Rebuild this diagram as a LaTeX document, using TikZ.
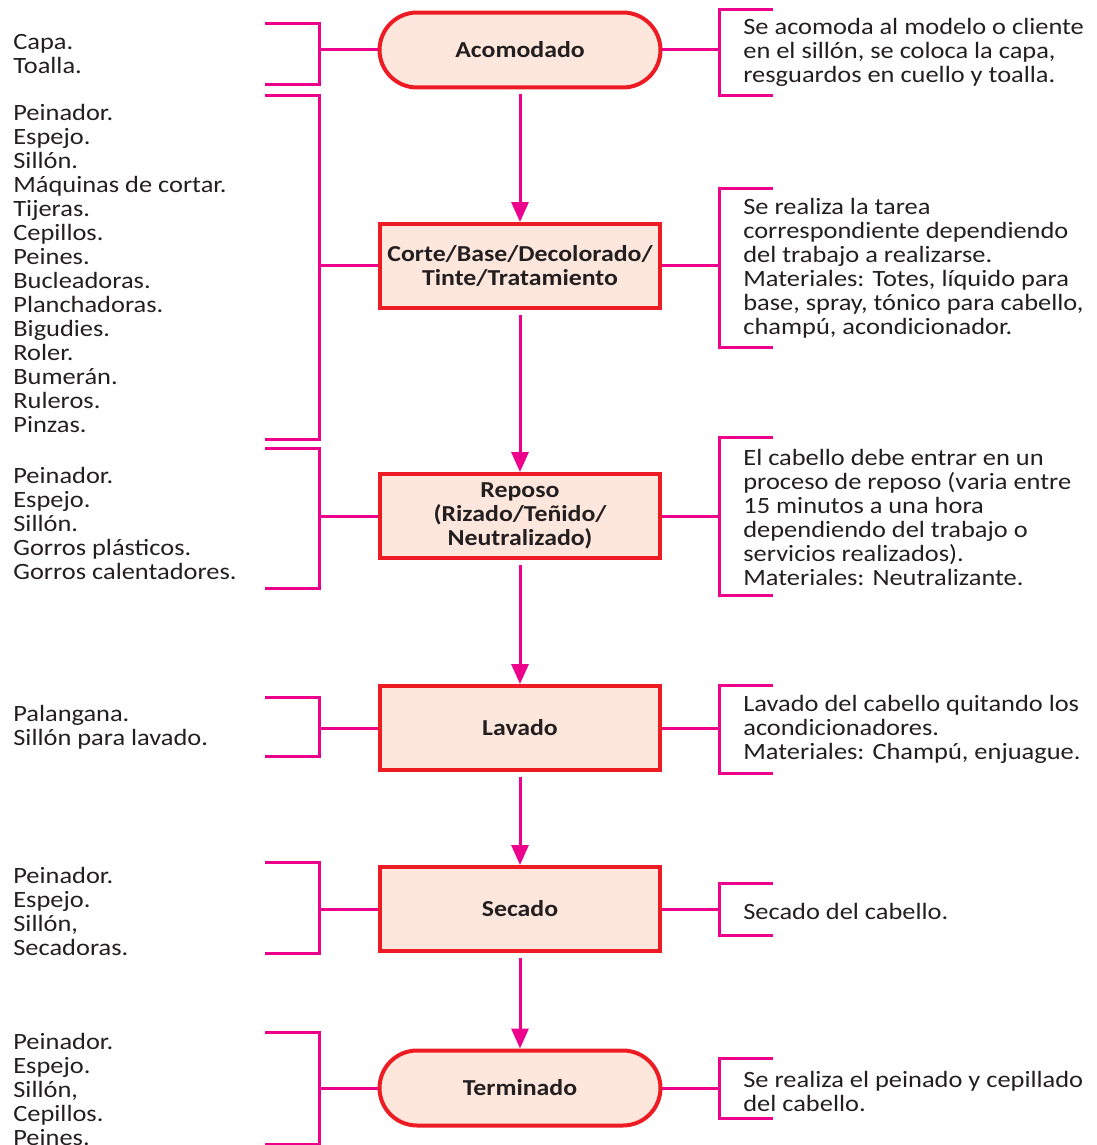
\documentclass[tikz,border=0pt]{standalone}
\usepackage{fontspec}
\setmainfont{Carlito}[FakeStretch=1.13]
\usetikzlibrary{positioning,arrows.meta}
\definecolor{myred}{HTML}{ED1C24}
\definecolor{mypeach}{HTML}{FDE6DC}
\definecolor{mymagenta}{HTML}{EC008C}
\definecolor{mytext}{HTML}{231F20}

\begin{document}
\begin{tikzpicture}[x=0.02cm, y=-0.02cm,
  stepbox/.style={draw=myred, line width=0.08cm, fill=mypeach, align=center, inner sep=0pt,
    minimum width=5.62cm, minimum height=1.68cm, text=mytext, font=\fontsize{13}{13.66}\selectfont\bfseries},
  stepround/.style={stepbox, rounded corners=0.75cm, minimum height=1.5cm},
  flowarrow/.style={draw=mymagenta, line width=0.06cm, -{Triangle[width=0.34cm,length=0.4cm]}, shorten <=0.1cm},
  bracketline/.style={draw=mymagenta, line width=0.06cm},
  notetext/.style={anchor=west, align=left, inner sep=0pt, text=mytext, font=\fontsize{13.3}{13.66}\selectfont}]

\useasboundingbox (0,0) rectangle (1096,1145);

\coordinate (lbar) at (319,0);
\coordinate (rbar) at (719,0);

% Steps
\node[stepround] (acom) at (520,50) {Acomodado};
\node[stepbox] (corte) at (520,266) {Corte/Base/Decolorado/\\Tinte/Tratamiento};
\node[stepbox] (repo) at (520,516) {Reposo\\(Rizado/Teñido/\\Neutralizado)};
\node[stepbox] (lava) at (520,728) {Lavado};
\node[stepbox] (seca) at (520,909) {Secado};
\node[stepround] (term) at (520,1088) {Terminado};

% Flow arrows
\draw[flowarrow] (acom) -- (corte);
\draw[flowarrow] (corte) -- (repo);
\draw[flowarrow] (repo) -- (lava);
\draw[flowarrow] (lava) -- (seca);
\draw[flowarrow] (seca) -- (term);

% Left brackets (tools)
\draw[bracketline] (265,24) -| (319,85) -- (265,85);
\draw[bracketline] (265,96) -| (319,439) -- (265,439);
\draw[bracketline] (265,448) -| (319,588) -- (265,588);
\draw[bracketline] (265,697) -| (319,756) -- (265,756);
\draw[bracketline] (265,862) -| (319,953) -- (265,953);
\draw[bracketline] (265,1032) -| (319,1144) -- (265,1144);
\foreach \s in {acom,corte,repo,lava,seca,term}
  \draw[bracketline] (\s.west) -- (\s.west -| lbar);

% Right brackets (description)
\draw[bracketline] (773,10) -| (719,96) -- (773,96);
\draw[bracketline] (773,189) -| (719,347) -- (773,347);
\draw[bracketline] (773,437) -| (719,595) -- (773,595);
\draw[bracketline] (773,685) -| (719,773) -- (773,773);
\draw[bracketline] (773,883) -| (719,935) -- (773,935);
\draw[bracketline] (773,1058) -| (719,1118) -- (773,1118);
\foreach \s in {acom,corte,repo,lava,seca,term}
  \draw[bracketline] (\s.east) -- (\s.east -| rbar);

% Tools
\node[notetext] (tool1) at (13,54) {Capa.\\Toalla.};
\node[notetext] (tool2) at (13,268) {Peinador.\\Espejo.\\Sillón.\\Máquinas de cortar.\\Tijeras.\\Cepillos.\\Peines.\\Bucleadoras.\\Planchadoras.\\Bigudies.\\Roler.\\Bumerán.\\Ruleros.\\Pinzas.};
\node[notetext] (tool3) at (13,523) {Peinador.\\Espejo.\\Sillón.\\Gorros plásticos.\\Gorros calentadores.};
\node[notetext] (tool4) at (13,727) {Palangana.\\Sillón para lavado.};
\node[notetext] (tool5) at (13,911) {Peinador.\\Espejo.\\Sillón,\\Secadoras.};
\node[notetext] (tool6) at (13,1089) {Peinador.\\Espejo.\\Sillón,\\Cepillos.\\Peines.};

% Descriptions
\node[notetext] (desc1) at (743,52) {Se acomoda al modelo o cliente\\en el sillón, se coloca la capa,\\resguardos en cuello y toalla.};
\node[notetext] (desc2) at (743,268) {Se realiza la tarea\\correspondiente dependiendo\\del trabajo a realizarse.\\Materiales: Totes, líquido para\\base, spray, tónico para cabello,\\champú, acondicionador.};
\node[notetext] (desc3) at (743,517) {El cabello debe entrar en un\\proceso de reposo (varia entre\\15 minutos a una hora\\dependiendo del trabajo o\\servicios realizados).\\Materiales: Neutralizante.};
\node[notetext] (desc4) at (743,729) {Lavado del cabello quitando los\\acondicionadores.\\Materiales: Champú, enjuague.};
\node[notetext] (desc5) at (743,911) {Secado del cabello.};
\node[notetext] (desc6) at (743,1091) {Se realiza el peinado y cepillado\\del cabello.};

\end{tikzpicture}
\end{document}
